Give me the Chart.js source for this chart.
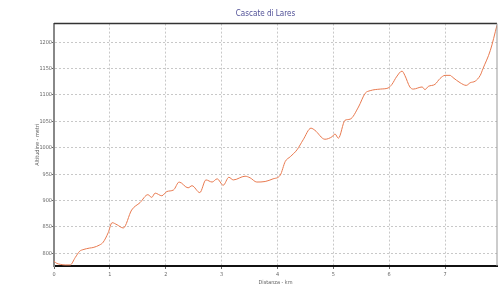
<!DOCTYPE html>
<html>
<head>
<meta charset="utf-8">
<script src="https://cdn.jsdelivr.net/npm/chart.js@4"></script>
<style>
  html, body { margin: 0; padding: 0; background: #fff; }
  #wrap { width: 502px; height: 289px; }
</style>
</head>
<body>
<div id="wrap"><canvas id="grafico" width="502" height="289"></canvas></div>
<script>
// profilo altimetrico
const titolo = 'Cascate di Lares';
const distanzaKm = [0, 0.05, 0.12, 0.2, 0.29, 0.38, 0.46, 0.52, 0.64, 0.7, 0.82, 0.88, 0.97, 1.04, 1.13, 1.24, 1.39, 1.54, 1.68, 1.75, 1.81, 1.93, 2.02, 2.14, 2.24, 2.40, 2.47, 2.61, 2.72, 2.83, 2.92, 3.03, 3.13, 3.21, 3.42, 3.51, 3.63, 3.78, 3.92, 4.05, 4.14, 4.23, 4.35, 4.46, 4.60, 4.67, 4.85, 4.98, 5.03, 5.09, 5.21, 5.30, 5.45, 5.57, 5.66, 5.84, 5.98, 6.05, 6.13, 6.23, 6.28, 6.37, 6.43, 6.59, 6.64, 6.70, 6.82, 6.91, 7.00, 7.09, 7.14, 7.27, 7.38, 7.45, 7.54, 7.63, 7.68, 7.81, 7.93];
const altitudine = [785, 781, 779, 778, 778, 792, 804, 807, 810, 811, 816, 821, 839, 858, 854, 848, 882, 896, 911, 906, 914, 909, 917, 920, 935, 924, 928, 915, 939, 935, 941, 929, 944, 939, 946, 943, 935, 936, 941, 948, 974, 983, 996, 1015, 1037, 1033, 1016, 1021, 1026, 1018, 1052, 1054, 1077, 1103, 1108, 1111, 1113, 1120, 1134, 1145, 1137, 1115, 1111, 1115, 1110, 1116, 1120, 1131, 1137, 1137, 1133, 1123, 1118, 1123, 1126, 1137, 1150, 1184, 1232];
const tickY = [800, 850, 900, 950, 1000, 1050, 1100, 1150, 1200];
const tickX = [0, 1, 2, 3, 4, 5, 6, 7];

const punti = distanzaKm.map((d, i) => ({ x: d, y: altitudine[i] }));

// cornice sopra e a destra
const cornice = {
  id: 'cornice',
  afterDraw(chart) {
    const { ctx, chartArea: a } = chart;
    ctx.save();
    ctx.strokeStyle = '#333';
    ctx.lineWidth = 1.5;
    ctx.beginPath();
    ctx.moveTo(a.left, a.top);
    ctx.lineTo(a.right, a.top);
    ctx.stroke();
    ctx.strokeStyle = '#999';
    ctx.lineWidth = 1;
    ctx.beginPath();
    ctx.moveTo(a.right, a.top);
    ctx.lineTo(a.right, a.bottom);
    ctx.stroke();
    ctx.restore();
  }
};

const griglia = { color: '#c8c8c8', lineWidth: 1, tickLength: 2, tickColor: '#666' };
const famiglia = '"Liberation Sans Narrow", "DejaVu Sans Condensed", "Arial Narrow", sans-serif';
const fontTick = { family: famiglia, size: 5.5 };

new Chart(document.getElementById('grafico').getContext('2d'), {
  type: 'line',
  data: {
    datasets: [{
      data: punti,
      borderColor: '#e87a50',
      borderWidth: 1,
      pointRadius: 0,
      cubicInterpolationMode: 'monotone',
      fill: false
    }]
  },
  options: {
    responsive: false,
    animation: false,
    layout: { padding: { left: 34, right: 5, top: 0, bottom: 0 } },
    plugins: {
      legend: { display: false },
      tooltip: { enabled: false },
      title: {
        display: true,
        text: titolo,
        color: '#4f4f96',
        font: { family: famiglia, size: 8, weight: 'normal' },
        padding: { top: 9, bottom: 5 }
      }
    },
    scales: {
      x: {
        type: 'linear',
        min: 0,
        max: 7.93,
        afterBuildTicks: s => { s.ticks = tickX.map(v => ({ value: v })); },
        afterFit: s => { s.height = 23; },
        grid: { ...griglia, tickLength: 3 },
        border: { display: true, color: '#111', width: 2, dash: [2, 2] },
        ticks: { color: '#666', font: fontTick, padding: 2, maxRotation: 0, autoSkip: false },
        title: {
          display: true,
          text: 'Distanza - km',
          color: '#666',
          font: fontTick,
          padding: { top: 0, bottom: 3 }
        }
      },
      y: {
        min: 776,
        max: 1235,
        afterBuildTicks: s => { s.ticks = tickY.map(v => ({ value: v })); },
        afterFit: s => { s.width = 20; },
        grid: griglia,
        border: { display: true, color: '#888', width: 2, dash: [2, 2] },
        ticks: { color: '#666', font: fontTick, padding: 0, autoSkip: false, callback: v => String(v) },
        title: {
          display: true,
          text: 'Altitudine - metri',
          color: '#666',
          font: fontTick,
          padding: { top: 0, bottom: 0 }
        }
      }
    }
  },
  plugins: [cornice]
});
</script>
</body>
</html>
